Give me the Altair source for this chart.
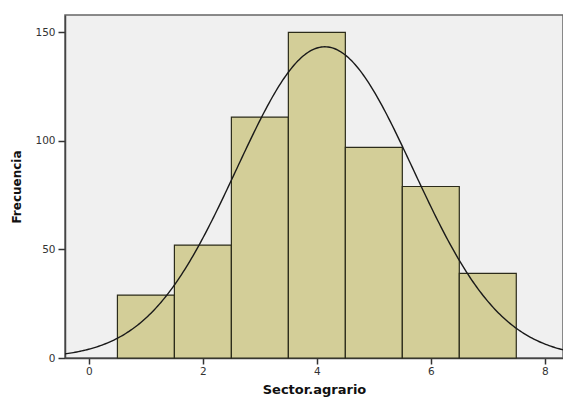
import altair as alt
import numpy as np
import pandas as pd

# Histogram data (bin centers and frequencies)
bin_centers = [1, 2, 3, 4, 5, 6, 7]
frequencies = [29, 52, 111, 150, 97, 79, 39]
bin_width = 1.0

# Fitted normal curve parameters (as drawn by SPSS)
curve_mean = 4.14
curve_sd = 1.55
curve_n = sum(frequencies)

x_ticks = [0, 2, 4, 6, 8]
y_ticks = [0, 50, 100, 150]

bars = pd.DataFrame({
    "x0": [c - bin_width / 2 for c in bin_centers],
    "x1": [c + bin_width / 2 for c in bin_centers],
    "freq": frequencies,
})

xs = np.linspace(-0.45, 8.4, 300)
ys = curve_n * bin_width / (curve_sd * np.sqrt(2 * np.pi)) * np.exp(-0.5 * ((xs - curve_mean) / curve_sd) ** 2)
curve = pd.DataFrame({"x": xs, "y": ys})

xscale = alt.Scale(domain=[-0.42, 8.32], nice=False, zero=False)
yscale = alt.Scale(domain=[0, 158], nice=False)

font = "DejaVu Sans"

bar_layer = alt.Chart(bars).mark_rect(
    fill="#D3CE98", stroke="#2b2b1a", strokeWidth=1.2
).encode(
    x=alt.X("x0:Q", scale=xscale,
            axis=alt.Axis(values=x_ticks, format="d", title="Sector.agrario", grid=False,
                          domainColor="#444444", domainWidth=1.5,
                          tickColor="#333333", tickSize=6, tickWidth=1.5,
                          labelFont=font, labelFontSize=10.5, labelColor="#333333",
                          labelPadding=2,
                          titleFont=font, titleFontSize=13, titleFontWeight="bold",
                          titleColor="#111111", titlePadding=7)),
    x2="x1:Q",
    y=alt.Y("freq:Q", scale=yscale,
            axis=alt.Axis(values=y_ticks, format="d", title="Frecuencia", grid=False,
                          domainColor="#444444", domainWidth=1.5,
                          tickColor="#333333", tickSize=7, tickWidth=1.5,
                          labelFont=font, labelFontSize=10.5, labelColor="#333333",
                          labelPadding=3,
                          titleFont=font, titleFontSize=12, titleFontWeight="bold",
                          titleColor="#111111", titlePadding=11)),
    y2=alt.datum(0),
)

curve_layer = alt.Chart(curve).mark_line(
    color="#1a1a1a", strokeWidth=1.4, clip=True
).encode(
    x=alt.X("x:Q", scale=xscale),
    y=alt.Y("y:Q", scale=yscale),
)

chart = alt.layer(bar_layer, curve_layer).properties(
    width=498, height=343,
    padding={"left": 65, "top": 15, "right": 0, "bottom": 39},
    autosize=alt.AutoSizeParams(type="none"),
    background="white",
).configure_view(
    fill="#F0F0F0", stroke="#666666", strokeWidth=1.5
)

chart.save("out.html", embed_options={"renderer": "svg", "actions": False})
